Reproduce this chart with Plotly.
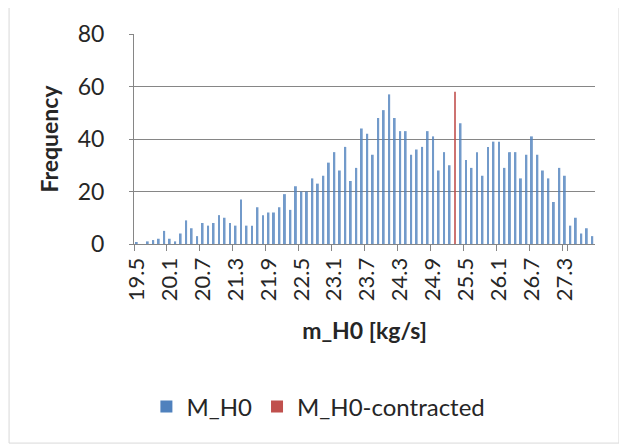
import plotly.graph_objects as go

categories = ["19.5", "19.6", "19.7", "19.8", "19.9", "20.0", "20.1", "20.2", "20.3", "20.4",
              "20.5", "20.6", "20.7", "20.8", "20.9", "21.0", "21.1", "21.2", "21.3", "21.4",
              "21.5", "21.6", "21.7", "21.8", "21.9", "22.0", "22.1", "22.2", "22.3", "22.4",
              "22.5", "22.6", "22.7", "22.8", "22.9", "23.0", "23.1", "23.2", "23.3", "23.4",
              "23.5", "23.6", "23.7", "23.8", "23.9", "24.0", "24.1", "24.2", "24.3", "24.4",
              "24.5", "24.6", "24.7", "24.8", "24.9", "25.0", "25.1", "25.2", "25.3", "25.4",
              "25.5", "25.6", "25.7", "25.8", "25.9", "26.0", "26.1", "26.2", "26.3", "26.4",
              "26.5", "26.6", "26.7", "26.8", "26.9", "27.0", "27.1", "27.2", "27.3", "27.4",
              "27.5", "27.6", "27.7", "27.8"]

m_h0 = [0.5, 0, 1, 1.5, 2, 5, 2, 1, 4, 9,
        6, 3, 8, 7, 8, 11, 10, 8, 7, 17,
        7, 7, 14, 11, 12, 12, 14, 19, 13, 22,
        20, 20, 25, 23, 26, 31, 35, 28, 37, 24,
        29, 44, 42, 34, 48, 51, 57, 48, 43, 43,
        34, 36, 37, 43, 41, 28, 35, 30, 0, 46,
        32, 29, 35, 26, 37, 39, 39, 29, 35, 35,
        25, 34, 41, 34, 28, 25, 16, 29, 26, 7,
        10, 4, 6, 3]

contracted_cats = ["25.3"]
contracted_vals = [58]

tick_labels = ["19.5", "20.1", "20.7", "21.3", "21.9", "22.5", "23.1",
               "23.7", "24.3", "24.9", "25.5", "26.1", "26.7", "27.3"]

FONT = "Lato"
GRID = "#868686"
TXT = "#262626"

fig = go.Figure()
fig.add_bar(x=categories, y=m_h0, name="M_H0",
            marker=dict(color="#4F81BD", line_width=0, opacity=0.8))
fig.add_bar(x=contracted_cats, y=contracted_vals, name="M_H0-contracted",
            marker=dict(color="#C0504D", line_width=0, opacity=0.8))

# page body has an 8px margin, so the figure is 8px smaller and shifted
fig.update_layout(
    width=619, height=437,
    margin=dict(l=126, r=32, t=26, b=201, autoexpand=False),
    paper_bgcolor="white", plot_bgcolor="white",
    barmode="overlay", bargap=0.65,
    font=dict(family=FONT, color=TXT, size=22),
    showlegend=True,
    legend=dict(orientation="h", x=0.40, xanchor="center", y=-0.776, yanchor="middle",
                font=dict(size=24, family=FONT, color=TXT),
                bgcolor="rgba(0,0,0,0)"),
    shapes=[dict(type="rect", xref="paper", yref="paper",
                 x0=-0.271, x1=1.052, y0=-0.948, y1=1.133,
                 line=dict(color="#D9D9D9", width=1), fillcolor="rgba(0,0,0,0)", layer="below")],
)

fig.update_xaxes(
    type="category", categoryorder="array", categoryarray=categories,
    range=[-0.5, len(categories) - 0.5],
    tickmode="array", tickvals=tick_labels, ticktext=tick_labels,
    tickangle=-90, tickson="boundaries", ticks="outside", ticklen=6, tickcolor=GRID,
    ticklabelstandoff=4,
    showline=True, linecolor=GRID, linewidth=1, showgrid=False,
    tickfont=dict(size=22, family=FONT, color=TXT),
    title=dict(text="m_H0 [kg/s]", font=dict(size=23, family=FONT, color=TXT, weight="bold"),
               standoff=22),
)
fig.update_yaxes(
    range=[0, 80], dtick=20, tick0=0,
    showgrid=True, gridcolor=GRID, gridwidth=1,
    showline=True, linecolor=GRID, linewidth=1, zeroline=False,
    ticks="outside", ticklen=4, tickcolor=GRID,
    ticklabelstandoff=20,
    tickfont=dict(size=23, family=FONT, color=TXT),
    title=dict(text="Frequency", font=dict(size=23, family=FONT, color=TXT, weight="bold"),
               standoff=12),
)

fig.write_html("out.html")
